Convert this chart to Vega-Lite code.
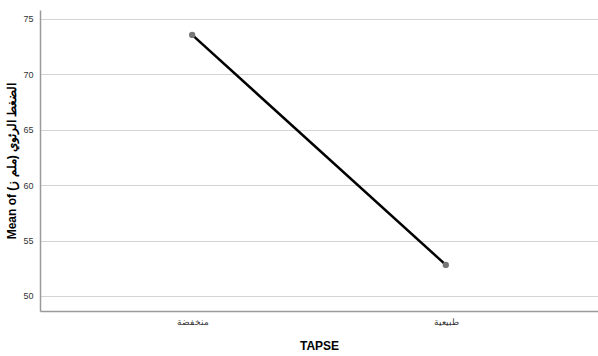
{
  "$schema": "https://vega.github.io/schema/vega-lite/v6.json",
  "width": 558,
  "height": 301,
  "autosize": "none",
  "padding": {"left": 40, "top": 10, "right": 0, "bottom": 45},
  "background": "white",
  "config": {
    "view": {"stroke": null},
    "font": "Liberation Sans",
    "axis": {
      "labelFont": "Liberation Sans",
      "titleFont": "Liberation Sans",
      "labelColor": "#333333",
      "titleColor": "#000000",
      "labelFontSize": 9,
      "titleFontSize": 12,
      "titleFontWeight": "bold",
      "domainColor": "#9a9a9a",
      "domainWidth": 1.5,
      "gridColor": "#d4d4d4",
      "gridWidth": 1,
      "ticks": false
    }
  },
  "data": {
    "values": [
      {"TAPSE": "منخفضة", "mean": 73.55},
      {"TAPSE": "طبيعية", "mean": 52.8}
    ]
  },
  "encoding": {
    "x": {
      "field": "TAPSE",
      "type": "nominal",
      "sort": null,
      "scale": {"type": "point", "padding": 0.6},
      "axis": {"title": "TAPSE", "labelAngle": 0, "labelPadding": 6, "titlePadding": 14, "grid": false}
    },
    "y": {
      "field": "mean",
      "type": "quantitative",
      "scale": {"domain": [48.64, 75.8], "nice": false, "zero": false},
      "axis": {
        "title": "Mean of الضغط الرئوي (ملم ز)",
        "values": [50, 55, 60, 65, 70, 75],
        "grid": true,
        "labelPadding": 7,
        "titlePadding": 4
      }
    }
  },
  "layer": [
    {"mark": {"type": "line", "color": "#000000", "strokeWidth": 2.5}},
    {"mark": {"type": "point", "filled": true, "color": "#777777", "size": 40, "opacity": 1}}
  ]
}
